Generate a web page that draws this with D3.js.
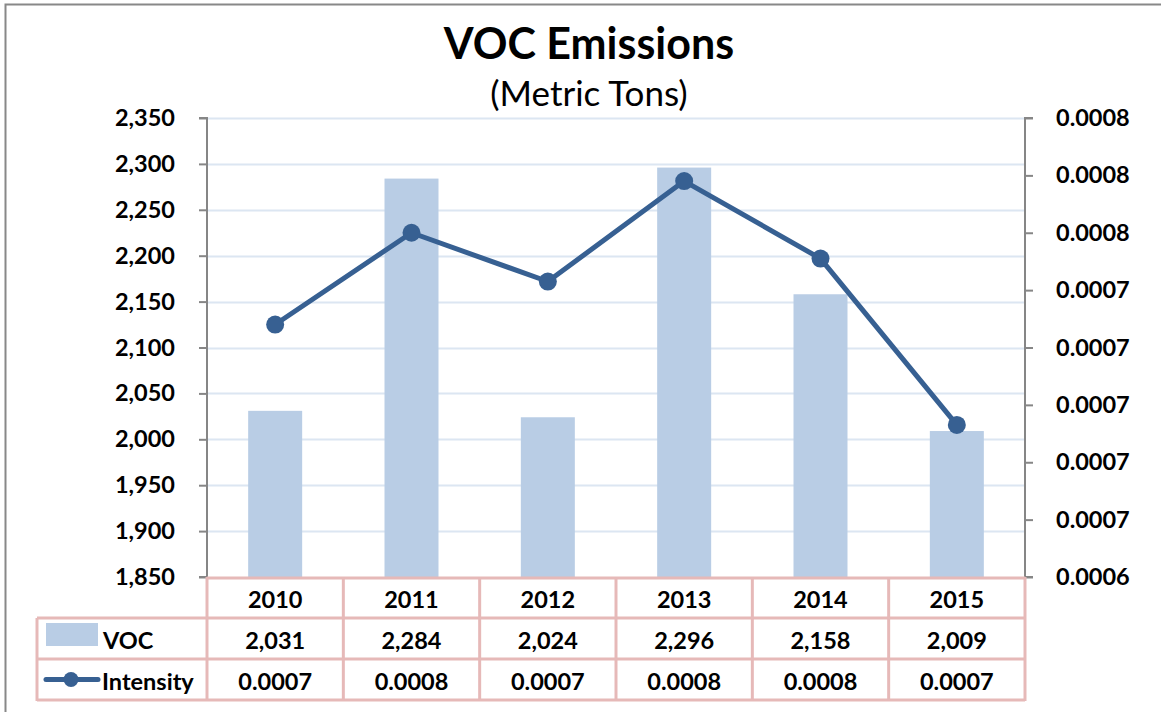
<!DOCTYPE html>
<html>
<head>
<meta charset="utf-8">
<script src="https://cdn.jsdelivr.net/npm/d3@7"></script>
<style>
  html, body { margin: 0; padding: 0; background: #fff; }
  svg { display: block; font-family: Lato, "Open Sans", sans-serif; }
</style>
</head>
<body>
<svg id="chart" width="1161" height="712"></svg>
<script>
const years = ["2010", "2011", "2012", "2013", "2014", "2015"];
const vocValues = [2031, 2284, 2024, 2296, 2158, 2009];
const intensityValues = [0.000728, 0.00076, 0.000743, 0.000778, 0.000751, 0.000693];
const leftTicks = [1850, 1900, 1950, 2000, 2050, 2100, 2150, 2200, 2250, 2300, 2350];
const rightTicks = [0.00064, 0.00066, 0.00068, 0.0007, 0.00072, 0.00074, 0.00076, 0.00078, 0.0008];
const seriesNames = ["VOC", "Intensity"];
const titleText = "VOC Emissions";
const subtitleText = "(Metric Tons)";

const svg = d3.select("#chart");
const W = 1161, H = 712;
const plot = { left: 207, right: 1025, top: 118, bottom: 577 };
const rowH = 41;
const tableLeft = 37;
const fs = 23.5;

const barColor = "#b9cde5";
const lineColor = "#376092";
const gridColor = "#dce6f2";
const axisColor = "#868686";
const tableColor = "#e6b9b8";

// outer border
svg.append("path")
  .attr("d", `M5.5,${H + 2} L5.5,4.5 L${W + 2},4.5`)
  .attr("fill", "none").attr("stroke", "#888").attr("stroke-width", 2);

// titles
svg.append("text").attr("x", 589).attr("y", 59).attr("text-anchor", "middle")
  .attr("font-size", 43).attr("font-weight", "bold").attr("fill", "#000").text(titleText);
svg.append("text").attr("x", 589).attr("y", 106).attr("text-anchor", "middle")
  .attr("font-size", 35).attr("fill", "#000").text(subtitleText);

const x = d3.scaleBand().domain(years).range([plot.left, plot.right]).paddingInner(0).paddingOuter(0);
const y = d3.scaleLinear().domain([1850, 2350]).range([plot.bottom, plot.top]);
const y2 = d3.scaleLinear().domain([0.00064, 0.0008]).range([plot.bottom, plot.top]);

// gridlines
svg.append("g").selectAll("line").data(leftTicks.slice(1)).join("line")
  .attr("x1", plot.left).attr("x2", plot.right)
  .attr("y1", d => Math.round(y(d)) + 0.5).attr("y2", d => Math.round(y(d)) + 0.5)
  .attr("stroke", gridColor).attr("stroke-width", 2);

// bars
const barW = 54;
svg.append("g").selectAll("rect").data(vocValues).join("rect")
  .attr("x", (d, i) => x(years[i]) + x.bandwidth() / 2 - barW / 2)
  .attr("width", barW)
  .attr("y", d => y(d))
  .attr("height", d => y(1850) - y(d))
  .attr("fill", barColor);

// left axis
const leftAxis = d3.axisLeft(y).tickValues(leftTicks).tickFormat(d3.format(",")).tickSize(8).tickPadding(24);
const gl = svg.append("g").attr("transform", `translate(${plot.left},0)`).call(leftAxis);
gl.select(".domain").attr("stroke", axisColor).attr("stroke-width", 2).attr("d", `M-8,${plot.top}H0V${plot.bottom}H-8`);
gl.selectAll(".tick line").attr("stroke", axisColor).attr("stroke-width", 2);
gl.selectAll(".tick text").attr("font-size", fs).attr("font-weight", "bold").attr("fill", "#000")
  .attr("font-family", "Lato, 'Open Sans', sans-serif");

// right axis
const rightAxis = d3.axisRight(y2).tickValues(rightTicks).tickFormat(d3.format(".4f")).tickSize(8).tickPadding(23);
const gr = svg.append("g").attr("transform", `translate(${plot.right},0)`).call(rightAxis);
gr.select(".domain").attr("stroke", axisColor).attr("stroke-width", 2).attr("d", `M8,${plot.top}H0V${plot.bottom}H8`);
gr.selectAll(".tick line").attr("stroke", axisColor).attr("stroke-width", 2);
gr.selectAll(".tick text").attr("font-size", fs).attr("font-weight", "bold").attr("fill", "#000")
  .attr("font-family", "Lato, 'Open Sans', sans-serif");

// line
const line = d3.line().x((d, i) => x(years[i]) + x.bandwidth() / 2).y(d => y2(d));
svg.append("path").datum(intensityValues).attr("d", line)
  .attr("fill", "none").attr("stroke", lineColor).attr("stroke-width", 5).attr("stroke-linejoin", "round");
svg.append("g").selectAll("circle").data(intensityValues).join("circle")
  .attr("cx", (d, i) => x(years[i]) + x.bandwidth() / 2).attr("cy", d => y2(d))
  .attr("r", 9).attr("fill", lineColor);

// data table
const tbl = svg.append("g");
const rowTop = [plot.bottom, plot.bottom + rowH, plot.bottom + 2 * rowH, plot.bottom + 3 * rowH];
tbl.append("line").attr("x1", plot.left).attr("x2", plot.right).attr("y1", rowTop[0] + 1).attr("y2", rowTop[0] + 1);
for (let r = 1; r <= 3; r++) {
  tbl.append("line").attr("x1", tableLeft).attr("x2", plot.right).attr("y1", rowTop[r]).attr("y2", rowTop[r]);
}
tbl.append("line").attr("x1", tableLeft).attr("x2", tableLeft).attr("y1", rowTop[1]).attr("y2", rowTop[3] + 1);
years.forEach(yr => {
  tbl.append("line").attr("x1", x(yr)).attr("x2", x(yr)).attr("y1", rowTop[0]).attr("y2", rowTop[3] + 1);
});
tbl.append("line").attr("x1", plot.right).attr("x2", plot.right).attr("y1", rowTop[0]).attr("y2", rowTop[3] + 1);
tbl.selectAll("line").attr("stroke", tableColor).attr("stroke-width", 3);

const cellText = (g, cx, cy, t) => g.append("text").attr("x", cx).attr("y", cy)
  .attr("text-anchor", "middle").attr("dominant-baseline", "central")
  .attr("font-size", fs).attr("font-weight", "bold").attr("fill", "#000").text(t);

years.forEach((yr, i) => {
  const cx = x(yr) + x.bandwidth() / 2;
  cellText(tbl, cx, rowTop[0] + rowH / 2 + 1, yr);
  cellText(tbl, cx, rowTop[1] + rowH / 2 + 1, d3.format(",")(vocValues[i]));
  cellText(tbl, cx, rowTop[2] + rowH / 2 + 1, d3.format(".4f")(intensityValues[i]));
});

// legend keys
tbl.append("rect").attr("x", 46).attr("y", rowTop[1] + 5).attr("width", 52).attr("height", 23).attr("fill", barColor);
tbl.append("text").attr("x", 103).attr("y", rowTop[1] + rowH / 2 + 1).attr("dominant-baseline", "central")
  .attr("font-size", fs).attr("font-weight", "bold").attr("fill", "#000").text(seriesNames[0]);
tbl.append("line").attr("x1", 46).attr("x2", 98).attr("y1", rowTop[2] + rowH / 2).attr("y2", rowTop[2] + rowH / 2)
  .attr("stroke", lineColor).attr("stroke-width", 5).attr("stroke-linecap", "round");
tbl.append("circle").attr("cx", 71).attr("cy", rowTop[2] + rowH / 2).attr("r", 7.5).attr("fill", lineColor);
tbl.append("text").attr("x", 102).attr("y", rowTop[2] + rowH / 2 + 1).attr("dominant-baseline", "central")
  .attr("font-size", fs).attr("font-weight", "bold").attr("fill", "#000").text(seriesNames[1]);
</script>
</body>
</html>
